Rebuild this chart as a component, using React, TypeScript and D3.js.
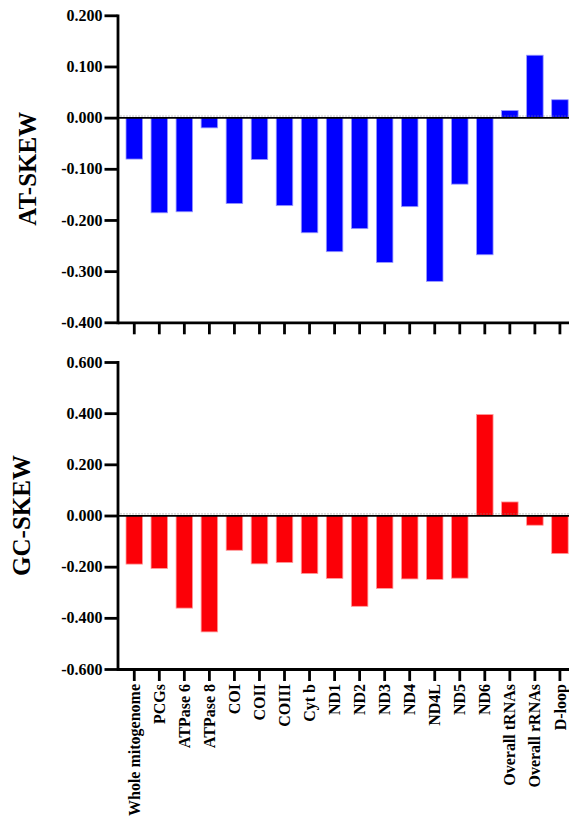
import React, { useEffect, useRef } from 'react'
import * as d3 from 'd3'

const WIDTH = 569
const HEIGHT = 823
const FONT = '"Liberation Serif", "Times New Roman", serif'

const categories = [
  'Whole mitogenome',
  'PCGs',
  'ATPase 6',
  'ATPase 8',
  'COI',
  'COII',
  'COIII',
  'Cyt b',
  'ND1',
  'ND2',
  'ND3',
  'ND4',
  'ND4L',
  'ND5',
  'ND6',
  'Overall tRNAs',
  'Overall rRNAs',
  'D-loop',
]

const atSkew = [
  -0.081, -0.186, -0.184, -0.02, -0.168, -0.082, -0.172, -0.225, -0.262, -0.217, -0.283, -0.174,
  -0.32, -0.13, -0.268, 0.014, 0.122, 0.035,
]

const gcSkew = [
  -0.19, -0.207, -0.362, -0.455, -0.136, -0.189, -0.184, -0.227, -0.246, -0.355, -0.285, -0.248,
  -0.25, -0.245, 0.395, 0.053, -0.038, -0.149,
]

const atTicks = [0.2, 0.1, 0, -0.1, -0.2, -0.3, -0.4]
const gcTicks = [0.6, 0.4, 0.2, 0, -0.2, -0.4, -0.6]

type Panel = {
  title: string
  values: number[]
  ticks: number[]
  top: number
  bottom: number
  titleX: number
  fill: string
  stroke: string
  labels: boolean
}

const panels: Panel[] = [
  {
    title: 'AT-SKEW',
    values: atSkew,
    ticks: atTicks,
    top: 15.3,
    bottom: 322.3,
    titleX: 36,
    fill: '#0000ff',
    stroke: '#9a9aff',
    labels: false,
  },
  {
    title: 'GC-SKEW',
    values: gcSkew,
    ticks: gcTicks,
    top: 362,
    bottom: 669,
    titleX: 29.5,
    fill: '#fc0007',
    stroke: '#ff9c9c',
    labels: true,
  },
]

const axisLeftX = 117.5

function drawPanel(svg: d3.Selection<SVGSVGElement, unknown, null, undefined>, p: Panel) {
  const x = d3
    .scaleBand()
    .domain(categories)
    .range([axisLeftX, 576.7])
    .paddingInner(0.34)
    .paddingOuter(0.34)

  const y = d3
    .scaleLinear()
    .domain([d3.min(p.ticks) as number, d3.max(p.ticks) as number])
    .range([p.bottom, p.top])

  const g = svg.append('g')

  // bars
  g.append('g')
    .selectAll('rect')
    .data(p.values)
    .join('rect')
    .attr('x', (d, i) => x(categories[i]) as number)
    .attr('y', d => y(Math.max(0, d)))
    .attr('width', x.bandwidth())
    .attr('height', d => Math.abs(y(d) - y(0)))
    .attr('fill', p.fill)
    .attr('stroke', p.stroke)
    .attr('stroke-width', 0.8)

  // zero line
  g.append('line')
    .attr('x1', axisLeftX)
    .attr('x2', WIDTH)
    .attr('y1', y(0) - 1.6)
    .attr('y2', y(0) - 1.6)
    .attr('stroke', '#888')
    .attr('stroke-width', 1)
    .attr('stroke-dasharray', '1,2')
  g.append('line')
    .attr('x1', axisLeftX)
    .attr('x2', WIDTH)
    .attr('y1', y(0) + 0.3)
    .attr('y2', y(0) + 0.3)
    .attr('stroke', '#000')
    .attr('stroke-width', 1.8)

  // y axis
  const yAxis = g
    .append('g')
    .attr('transform', `translate(${axisLeftX},0)`)
    .call(
      d3
        .axisLeft(y)
        .tickValues(p.ticks)
        .tickSize(13)
        .tickSizeOuter(0)
        .tickPadding(2)
        .tickFormat(d => (d as number).toFixed(3))
    )
  yAxis.select('.domain').attr('stroke-width', 2.8).attr('stroke-linecap', 'square')
  yAxis.selectAll('.tick line').attr('stroke-width', 2.8)
  yAxis
    .selectAll('.tick text')
    .attr('font-family', FONT)
    .attr('font-weight', 'bold')
    .attr('font-size', 16)
    .attr('fill', '#000')

  // x axis
  const xAxis = g
    .append('g')
    .attr('transform', `translate(0,${p.bottom})`)
    .call(d3.axisBottom(x).tickSize(12).tickSizeOuter(0))
  xAxis.select('.domain').attr('stroke-width', 2.8)
  xAxis.selectAll('.tick line').attr('stroke-width', 2.8)
  if (p.labels) {
    xAxis
      .selectAll('.tick text')
      .attr('font-family', FONT)
      .attr('font-weight', 'bold')
      .attr('font-size', 16)
      .attr('fill', '#000')
      .attr('text-anchor', 'end')
      .attr('transform', 'rotate(-90)')
      .attr('x', -15)
      .attr('y', 0)
      .attr('dy', '0.35em')
  } else {
    xAxis.selectAll('.tick text').remove()
  }

  // title
  g.append('text')
    .attr('transform', `translate(${p.titleX},${(p.top + p.bottom) / 2}) rotate(-90)`)
    .attr('text-anchor', 'middle')
    .attr('font-family', FONT)
    .attr('font-weight', 'bold')
    .attr('font-size', 25)
    .text(p.title)
}

export default function App() {
  const ref = useRef<SVGSVGElement>(null)

  useEffect(() => {
    const svg = d3.select(ref.current as SVGSVGElement)
    svg.selectAll('*').remove()
    panels.forEach(p => drawPanel(svg, p))
  }, [])

  return (
    <div style={{ position: 'absolute', left: 0, top: 0 }}>
      <svg
        ref={ref}
        width={WIDTH}
        height={HEIGHT}
        style={{ display: 'block', overflow: 'hidden', background: '#fff' }}
      />
    </div>
  )
}
